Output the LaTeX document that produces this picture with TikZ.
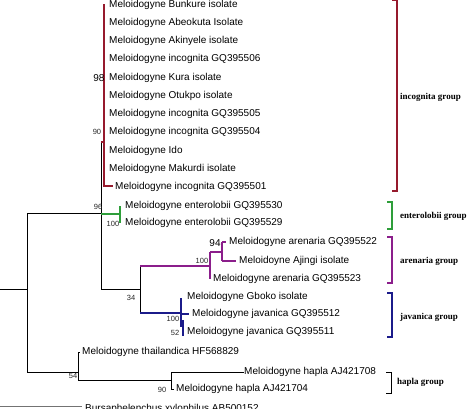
\documentclass[tikz,border=0pt]{standalone}
\usepackage{fontspec}
\setmainfont{Liberation Sans}
\newfontfamily\grpfont{Liberation Serif}
\definecolor{incred}{RGB}{150,26,45}
\definecolor{entgreen}{RGB}{46,158,58}
\definecolor{arepurple}{RGB}{139,30,139}
\definecolor{javblue}{RGB}{27,27,138}
\tikzset{
  taxon/.style={anchor=west,inner sep=0pt,font=\fontsize{10}{10}\selectfont,text height=7.3pt,text depth=2.1pt},
  boot/.style={inner sep=0pt,font=\fontsize{7.5}{7.5}\selectfont,text=black!85},
  bootbig/.style={inner sep=0pt,font=\fontsize{10}{10}\selectfont},
  grp/.style={anchor=west,inner sep=0pt,font=\fontsize{9}{9}\grpfont\bfseries},
  br/.style={line width=0.8pt,black},
}
\begin{document}
\begin{tikzpicture}[x=1pt,y=-1pt]
\useasboundingbox (0,0) rectangle (474,408);
% ---------- taxa ----------
\node[taxon] (t1) at (109,5) {Meloidogyne Bunkure isolate};
\node[taxon] (t2) at (109,23) {Meloidogyne Abeokuta Isolate};
\node[taxon] (t3) at (109,41) {Meloidogyne Akinyele isolate};
\node[taxon] (t4) at (109,59) {Meloidogyne incognita GQ395506};
\node[taxon] (t5) at (109,78) {Meloidogyne Kura isolate};
\node[taxon] (t6) at (109,96) {Meloidogyne Otukpo isolate};
\node[taxon] (t7) at (109,114) {Meloidogyne incognita GQ395505};
\node[taxon] (t8) at (109,132) {Meloidogyne incognita GQ395504};
\node[taxon] (t9) at (109,151) {Meloidogyne Ido};
\node[taxon] (t10) at (109,169) {Meloidogyne Makurdi isolate};
\node[taxon] (t11) at (115,187) {Meloidogyne incognita GQ395501};
\node[taxon] (e1) at (125,206) {Meloidogyne enterolobii GQ395530};
\node[taxon] (e2) at (125,223) {Meloidogyne enterolobii GQ395529};
\node[taxon] (a1) at (229,242) {Meloidogyne arenaria GQ395522};
\node[taxon] (a2) at (239,261) {Meloidoyne Ajingi isolate};
\node[taxon] (a3) at (213,279) {Meloidogyne arenaria GQ395523};
\node[taxon] (j1) at (187,297) {Meloidogyne Gboko isolate};
\node[taxon] (j2) at (192,314) {Meloidogyne javanica GQ395512};
\node[taxon] (j3) at (187,332) {Meloidogyne javanica GQ395511};
\node[taxon] (th) at (82,352) {Meloidogyne thailandica HF568829};
\node[taxon] (h1) at (244,372) {Meloidogyne hapla AJ421708};
\node[taxon] (h2) at (176,389) {Meloidogyne hapla AJ421704};
\node[taxon] (bx) at (85,409) {Bursaphelenchus xylophilus AB500152};
% ---------- internal nodes ----------
\coordinate (root) at (-2,289);
\coordinate (A) at (27,289);
\coordinate (Atop) at (27,213);
\coordinate (Abot) at (27,372);
\coordinate (B) at (101,213);
\coordinate (Btop) at (101,142);
\coordinate (Bbot) at (101,289);
\coordinate (I) at (104,142);
\coordinate (Itop) at (104,4);
\coordinate (Ibot) at (104,186);
\coordinate (E) at (120,214);
\coordinate (C) at (140,289);
\coordinate (Ar) at (210,266);
\coordinate (Ar2) at (222,252);
\coordinate (J) at (181,313);
\coordinate (D) at (78,372);
\coordinate (H) at (171,380);
\coordinate (rootB) at (-2,406);
% ---------- black tree ----------
\draw[line width=0.7pt] (root) -- (A);
\draw[line width=0.7pt] (Atop) -- (Abot);
\draw[line width=0.7pt] (Atop) -- (B);
\draw[line width=0.7pt] (Btop) -- (Bbot);
\draw[line width=0.7pt] (Bbot) -- (C);
\draw[line width=0.7pt] (C |- Ar) -- (C |- J);
\draw[line width=0.7pt] (Abot) -- (D);
\draw[line width=0.7pt] (D |- th) -- (D |- H);
\draw[line width=0.7pt] (D |- H) -- (H);
\draw[line width=0.7pt] (H |- h1) -- (H |- h2);
\draw[line width=0.7pt] (H |- h1) -- (h1.west);
\draw[line width=0.7pt] (H |- h2) -- ([xshift=-2pt]h2.west);
\draw[line width=0.7pt] (D |- th) -- ([xshift=-2pt]th.west);
\draw[line width=0.6pt,black!55] (rootB) -- ([xshift=-3pt]bx.west |- rootB);
% ---------- incognita (red) ----------
\draw[incred,line width=1.2pt] (Btop) -- (I);
\draw[incred,line width=1.4pt] (Itop) -- (Ibot) -- ([xshift=-2pt]t11.west |- Ibot);
% ---------- enterolobii (green) ----------
\draw[entgreen,line width=1.2pt] (B |- E) -- (E);
\draw[entgreen,line width=1.2pt] (E |- e1) -- (E |- e2);
% ---------- arenaria (purple) ----------
\draw[arepurple,line width=1.2pt] (C |- Ar) -- (Ar);
\draw[arepurple,line width=1.2pt] (Ar |- Ar2) -- (Ar |- a3);
\draw[arepurple,line width=1.2pt] (Ar |- Ar2) -- (Ar2);
\draw[arepurple,line width=1.2pt] (Ar2 |- a1) -- (Ar2 |- a2);
\draw[arepurple,line width=1.2pt] (Ar2 |- a1) -- ([xshift=-3pt]a1.west);
\draw[arepurple,line width=1.2pt] (Ar2 |- a2) -- ([xshift=-3pt]a2.west);
% ---------- javanica (blue) ----------
\draw[javblue,line width=1.2pt] (C |- J) -- (J);
\draw[javblue,line width=2.4pt] (181,298) -- (181,327);
\draw[javblue,line width=2.4pt] (183,320) -- (183,336);
\draw[javblue,line width=1.2pt] (J |- j2) -- ([xshift=-3pt]j2.west);
% ---------- bootstrap values ----------
\node[bootbig] (b98) at (99,78) {98};
\node[boot] (b90a) at (97,132) {90};
\node[boot] (b96) at (98,207) {96};
\node[boot] (b100e) at (113,224) {100};
\node[bootbig] (b94) at (215,243) {94};
\node[boot] (b100a) at (202,261) {100};
\node[boot] (b34) at (131,298) {34};
\node[boot] (b100j) at (173,319) {100};
\node[boot] (b52) at (175,333) {52};
\node[boot] (b54) at (73,376) {54};
\node[boot] (b90h) at (162,390) {90};
% ---------- group brackets ----------
\draw[incred,line width=1.4pt] (392,0) -- (397,0) -- (397,191) -- (392,191);
\node[grp] (g1) at (400,97) {incognita group};
\draw[entgreen,line width=1.2pt] (387,202) -- (392,202) -- (392,229) -- (387,229);
\node[grp] (g2) at (400,216) {enterolobii group};
\draw[arepurple,line width=1.2pt] (387,237) -- (392,237) -- (392,283) -- (387,283);
\node[grp] (g3) at (400,261) {arenaria group};
\draw[javblue,line width=1.2pt] (387,293) -- (392,293) -- (392,337) -- (387,337);
\node[grp] (g4) at (400,317) {javanica group};
\draw[br] (386,372) -- (391,372) -- (391,393) -- (386,393);
\node[grp] (g5) at (397,382) {hapla group};
\end{tikzpicture}
\end{document}
